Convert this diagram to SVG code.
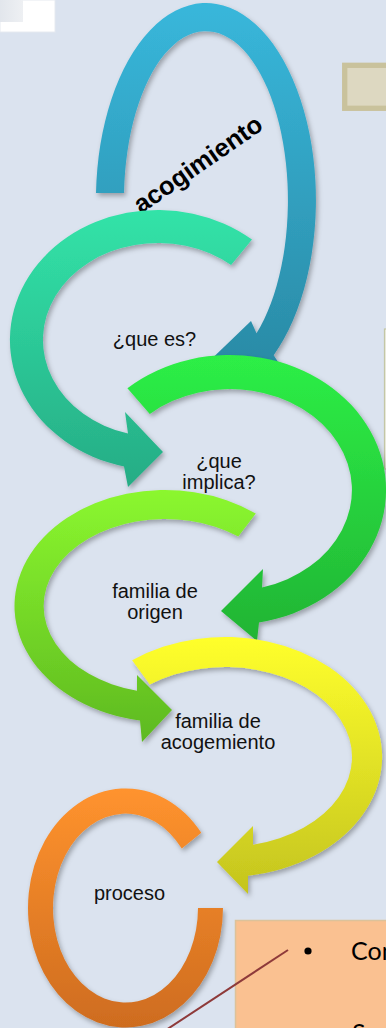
<svg xmlns="http://www.w3.org/2000/svg" width="386" height="1028" viewBox="0 0 386 1028">
<style>
.lbl{font-family:"Liberation Sans",Arial,sans-serif;font-size:20px;fill:#111;text-anchor:middle}
.ttl{font-family:"Liberation Sans",Arial,sans-serif;font-size:25.5px;font-weight:bold;fill:#000}
.box{font-family:Lato,"Liberation Sans",sans-serif;font-size:25px;fill:#000}
.arr{filter:url(#sh)}
</style>
<defs>
<filter id="sh" x="-20%" y="-20%" width="140%" height="140%">
<feDropShadow dx="2" dy="3" stdDeviation="2.5" flood-color="#000" flood-opacity="0.3"/>
</filter>
<linearGradient id="gBlue" x1="0" y1="0" x2="0" y2="1"><stop offset="0" stop-color="#38B7DB"/><stop offset="1" stop-color="#2A8AA5"/></linearGradient>
<linearGradient id="gTeal" x1="0" y1="0" x2="0" y2="1"><stop offset="0" stop-color="#32E3A8"/><stop offset="1" stop-color="#26AC85"/></linearGradient>
<linearGradient id="gGreen" x1="0" y1="0" x2="0" y2="1"><stop offset="0" stop-color="#2DEF46"/><stop offset="1" stop-color="#21B434"/></linearGradient>
<linearGradient id="gLime" x1="0" y1="0" x2="0" y2="1"><stop offset="0" stop-color="#8BF72F"/><stop offset="1" stop-color="#5EB920"/></linearGradient>
<linearGradient id="gYel" x1="0" y1="0" x2="0" y2="1"><stop offset="0" stop-color="#FFFF2C"/><stop offset="1" stop-color="#C4C41E"/></linearGradient>
<linearGradient id="gOra" x1="0" y1="0" x2="0" y2="1"><stop offset="0" stop-color="#FF932E"/><stop offset="1" stop-color="#CE6C1F"/></linearGradient>
<linearGradient id="gCorner" x1="0" y1="0" x2="1" y2="0"><stop offset="0" stop-color="#E2E6EC"/><stop offset="1" stop-color="#EEF0F3"/></linearGradient>
</defs>
<rect x="0" y="0" width="386" height="1028" fill="#DBE3EF"/>
<g id="corner">
<rect x="0" y="0" width="55" height="32" fill="#FFFFFF" stroke="#E6EAF0" stroke-width="1"/>
<rect x="0" y="0" width="23" height="22" fill="url(#gCorner)"/>
</g>
<g id="box-top">
<rect x="344.7" y="65.3" width="60" height="43" fill="#DDD8C1" stroke="#C9C29C" stroke-width="5.3"/>
</g>
<g id="box-mid">
<rect x="384.5" y="329" width="4" height="140" fill="#EDEBE0" stroke="#C3C7A6" stroke-width="1.2"/>
</g>
<g id="n1">
<path class="arr" fill="url(#gBlue)" d="M96,193 A110,197 0 1 1 273.7,355.2 L282,368 L198,372 L251,321 L256.5,333.2 A82,169 0 1 0 124,193 Z"/>
<text class="ttl" x="141" y="214" transform="rotate(-34.7 141 214)">acogimiento</text>
</g>
<g id="n2">
<path class="arr" fill="url(#gTeal)" d="M252,239.6 A148,130 0 1 0 124,466.5 L128,487 L163,452 L125,412 L128,433.6 A115,97 0 1 1 231.1,265.1 Z"/>
<text class="lbl" x="154.5" y="346">¿que es?</text>
</g>
<g id="n3">
<path class="arr" fill="url(#gGreen)" d="M127.4,388.3 A156,135 0 1 1 259,622.6 L257,641 L221,611 L263,569 L262,587.5 A122,101 0 1 0 149.8,413.9 Z"/>
<text class="lbl" x="219" y="467.5">¿que</text>
<text class="lbl" x="219" y="488.5">implica?</text>
</g>
<g id="n4">
<path class="arr" fill="url(#gLime)" d="M255.8,513.5 A150.5,116 0 1 0 140,720.4 L142,742 L172,710 L137,675 L137,690.7 A121.5,87 0 1 1 238.3,536.6 Z"/>
<text class="lbl" x="155" y="597.5">familia de</text>
<text class="lbl" x="155" y="618.5">origen</text>
</g>
<g id="n5">
<path class="arr" fill="url(#gYel)" d="M132.1,660.3 A157,120 0 1 1 248,875.7 L248,894 L217,862 L253,826 L253,844.8 A127,90 0 1 0 149.8,684.5 Z"/>
<text class="lbl" x="218" y="728">familia de</text>
<text class="lbl" x="218" y="749">acogemiento</text>
</g>
<g id="n6">
<path class="arr" fill="url(#gOra)" d="M201.3,832.8 A97.5,119.5 0 1 0 223,908 L198,908 A72.5,94.5 0 1 1 181.8,848.5 Z"/>
<text class="lbl" x="129.5" y="900">proceso</text>
</g>
<g id="box-bottom">
<rect x="235.5" y="920.5" width="160" height="120" fill="#FAC191" stroke="#DCC29A" stroke-width="1.5"/>
<circle cx="308" cy="951" r="3.6" fill="#000"/>
<text class="box" x="351" y="960">Con</text>
<text class="box" x="352" y="1042">S</text>
</g>
<g id="connectors">
<line x1="288" y1="950" x2="166" y2="1030" stroke="#8E3A3A" stroke-width="2"/>
</g>
</svg>
